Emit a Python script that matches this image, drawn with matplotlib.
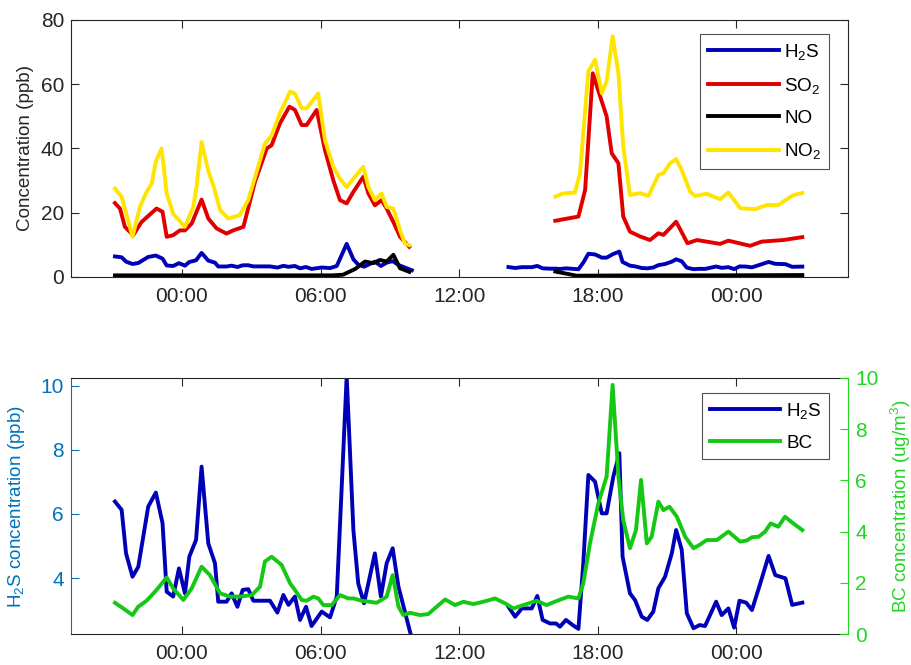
import matplotlib
matplotlib.use("Agg")
import matplotlib.pyplot as plt
from matplotlib.lines import Line2D

plt.rcParams["font.family"] = ["Liberation Sans", "DejaVu Sans"]
plt.rcParams["mathtext.fontset"] = "custom"
plt.rcParams["mathtext.rm"] = "Liberation Sans"
plt.rcParams["mathtext.it"] = "Liberation Sans"
plt.rcParams["mathtext.default"] = "regular"

# ---- data (time in hours relative to midnight of day 2) ----
h2s_t1 = [-2.90, -2.61, -2.42, -2.14, -1.89, -1.46, -1.13, -0.84, -0.66, -0.38,
          -0.13, 0.13, 0.32, 0.61, 0.85, 1.14, 1.43, 1.57, 1.93, 2.15,
          2.40, 2.63, 2.87, 3.09, 3.81, 4.13, 4.39, 4.61, 4.89, 5.11,
          5.37, 5.61, 6.05, 6.41, 6.70, 7.13, 7.42, 7.63, 7.88, 8.35,
          8.61, 8.86, 9.12, 9.37, 9.95]
h2s_v1 = [6.39, 6.13, 4.77, 4.04, 4.35, 6.23, 6.67, 5.71, 3.57, 3.42,
          4.30, 3.52, 4.67, 5.19, 7.48, 5.08, 4.46, 3.26, 3.26, 3.52,
          3.10, 3.63, 3.65, 3.29, 3.29, 2.92, 3.47, 3.16, 3.42, 2.69,
          3.10, 2.50, 2.95, 2.77, 3.42, 10.3, 5.50, 3.83, 3.21, 4.77,
          3.42, 4.46, 4.93, 3.73, 2.10]
h2s_t2 = [14.13, 14.42, 14.71, 15.14, 15.38, 15.61, 15.93, 16.19, 16.36, 16.62,
          16.91, 17.16, 17.37, 17.59, 17.88, 18.17, 18.38, 18.67, 18.93, 19.07,
          19.39, 19.61, 19.90, 20.14, 20.40, 20.62, 20.91, 21.20, 21.39, 21.63,
          21.85, 22.14, 22.40, 22.64, 23.12, 23.36, 23.65, 23.90, 24.13, 24.42,
          24.67, 25.03, 25.39, 25.68, 26.12, 26.41, 26.85]
h2s_v2 = [3.10, 2.79, 3.05, 3.05, 3.44, 2.69, 2.58, 2.58, 2.48, 2.69,
          2.53, 2.41, 4.46, 7.22, 7.01, 6.02, 6.02, 7.17, 7.90, 4.67,
          3.52, 3.31, 2.79, 2.69, 2.95, 3.68, 4.04, 4.77, 5.50, 4.88,
          2.90, 2.43, 2.53, 2.50, 3.26, 2.84, 3.05, 2.45, 3.29, 3.23,
          3.00, 3.83, 4.69, 4.09, 3.99, 3.16, 3.23]

so2_t1 = [-2.90, -2.68, -2.47, -2.11, -1.75, -1.10, -0.84, -0.66, -0.38, -0.09,
          0.13, 0.42, 0.85, 1.14, 1.50, 1.93, 2.22, 2.66, 3.16, 3.67,
          3.88, 4.24, 4.65, 4.89, 5.18, 5.40, 5.83, 6.19, 6.55, 6.84,
          7.13, 7.42, 7.85, 8.07, 8.35, 8.64, 8.86, 9.15, 9.44, 9.84]
so2_v1 = [23.0, 21.3, 15.6, 13.0, 17.1, 21.3, 20.3, 12.5, 13.0, 14.5,
          14.5, 16.6, 24.1, 18.2, 15.1, 13.5, 14.5, 15.6, 29.6, 40.0,
          41.0, 47.8, 53.0, 52.0, 47.3, 47.3, 52.0, 39.5, 30.1, 23.9,
          22.9, 26.5, 31.2, 26.0, 22.3, 23.9, 21.3, 17.1, 12.5, 9.4]
so2_t2 = [16.16, 17.16, 17.45, 17.78, 18.10, 18.38, 18.60, 18.89, 19.10, 19.39,
          19.83, 20.26, 20.62, 20.84, 21.39, 21.88, 22.29, 23.29, 23.65, 24.59,
          25.09, 26.03, 26.85]
so2_v2 = [17.5, 18.8, 27.1, 63.4, 56.2, 50.0, 38.5, 35.4, 18.8, 14.1,
          12.6, 11.5, 13.6, 13.1, 17.2, 10.5, 11.5, 10.3, 11.3, 9.7,
          11.0, 11.5, 12.4]

no_t1 = [-2.90, 6.50, 6.97, 7.50, 7.92, 8.28, 8.57, 8.86, 9.15, 9.44, 9.84]
no_v1 = [0.5, 0.5, 0.7, 2.5, 4.8, 4.3, 5.3, 4.8, 6.9, 2.7, 1.6]
no_t2 = [16.16, 17.08, 20.0, 23.0, 26.85]
no_v2 = [1.7, 0.4, 0.5, 0.5, 0.6]

no2_t1 = [-2.90, -2.61, -2.14, -1.82, -1.53, -1.31, -1.13, -0.88, -0.66, -0.38,
          0.13, 0.49, 0.63, 0.85, 1.14, 1.36, 1.65, 2.00, 2.50, 2.87,
          3.16, 3.59, 3.88, 4.24, 4.68, 4.89, 5.18, 5.40, 5.90, 6.19,
          6.55, 6.84, 7.13, 7.42, 7.85, 8.07, 8.35, 8.64, 8.86, 9.15,
          9.44, 9.65, 9.84]
no2_v1 = [27.5, 25.0, 12.5, 21.8, 26.5, 29.0, 36.0, 40.0, 26.0, 19.7,
          15.6, 21.8, 28.0, 42.0, 33.0, 28.5, 20.8, 18.2, 19.2, 24.0,
          31.0, 41.5, 44.0, 51.0, 57.7, 57.1, 52.5, 52.5, 57.1, 42.6,
          34.3, 30.6, 28.0, 30.6, 34.3, 28.0, 23.9, 26.0, 21.8, 21.3,
          14.5, 10.4, 9.9]
no2_t2 = [16.16, 16.50, 17.01, 17.23, 17.59, 17.88, 18.17, 18.38, 18.64, 18.89,
          19.10, 19.39, 19.83, 20.19, 20.62, 20.84, 21.13, 21.39, 21.63, 21.99,
          22.21, 22.71, 23.29, 23.65, 24.16, 24.81, 25.31, 25.81, 26.46, 26.85]
no2_v2 = [25.0, 26.0, 26.3, 32.3, 64.0, 67.6, 57.2, 60.9, 74.9, 63.4,
          40.6, 25.5, 26.1, 25.2, 31.8, 32.3, 35.4, 36.7, 33.3, 26.6,
          25.2, 25.9, 24.2, 26.3, 21.4, 21.1, 22.4, 22.4, 25.5, 26.1]

bc_t = [-2.90, -2.54, -2.14, -1.89, -1.53, -1.10, -0.66, -0.38, 0.06, 0.42,
        0.85, 1.21, 1.65, 2.08, 2.51, 3.02, 3.38, 3.59, 3.88, 4.31,
        4.68, 4.89, 5.18, 5.40, 5.69, 5.90, 6.12, 6.48, 6.84, 7.20,
        7.42, 7.78, 8.43, 8.86, 9.12, 9.37, 9.58, 9.87, 10.30, 10.66,
        11.39, 11.82, 12.18, 12.61, 13.04, 13.55, 13.98, 14.34, 14.78, 15.35,
        15.78, 16.22, 16.72, 17.16, 17.37, 17.66, 18.02, 18.38, 18.64, 18.89,
        19.10, 19.39, 19.65, 19.87, 20.12, 20.33, 20.62, 20.84, 21.10, 21.42,
        21.78, 22.14, 22.40, 22.71, 23.15, 23.65, 24.16, 24.44, 24.67, 24.96,
        25.24, 25.48, 25.81, 26.10, 26.46, 26.85]
bc_v = [1.22, 1.00, 0.74, 1.07, 1.30, 1.72, 2.21, 1.78, 1.33, 1.78,
        2.63, 2.30, 1.59, 1.46, 1.46, 1.52, 1.85, 2.83, 3.02, 2.70,
        1.98, 1.72, 1.33, 1.30, 1.46, 1.39, 1.13, 1.13, 1.52, 1.39,
        1.39, 1.30, 1.22, 1.46, 2.30, 1.07, 0.74, 0.83, 0.74, 0.78,
        1.35, 1.13, 1.26, 1.17, 1.26, 1.39, 1.20, 1.00, 1.13, 1.30,
        1.13, 1.29, 1.46, 1.39, 1.98, 3.54, 5.10, 6.15, 9.73, 6.15,
        4.45, 3.35, 4.06, 6.02, 3.54, 3.80, 5.17, 4.84, 4.97, 4.58,
        3.80, 3.35, 3.48, 3.67, 3.67, 4.00, 3.61, 3.65, 3.78, 3.80,
        4.00, 4.32, 4.19, 4.58, 4.32, 4.06]

tick_hours = [0, 6, 12, 18, 24]
tick_labels = ["00:00", "06:00", "12:00", "18:00", "00:00"]

c_h2s = "#0000b8"
c_so2 = "#e00000"
c_no = "#000000"
c_no2 = "#ffe400"
c_bc = "#14c814"
c_left = "#0072bd"
c_right = "#22d422"
c_axis = "#262626"
lw = 2.8
fs_tick = 15
fs_lab = 13.6


def style_time_axis(ax):
    ax.set_xlim(-4.8, 28.83)
    ax.set_xticks(tick_hours)
    ax.set_xticklabels(tick_labels)
    ax.tick_params(axis="x", direction="in", top=True, length=5.5, width=0.8,
                   color=c_axis, labelcolor=c_axis, labelsize=fs_tick, pad=7)
    for s in ["top", "bottom"]:
        ax.spines[s].set_color(c_axis)
        ax.spines[s].set_linewidth(0.8)


fig = plt.figure(figsize=(9.12, 6.65), dpi=100)

# ---- top panel ----
ax1 = fig.add_axes([0.0779, 0.5835, 0.852, 0.3865])
ax1.plot(h2s_t1, h2s_v1, color=c_h2s, lw=lw, label="H$_2$S")
ax1.plot(h2s_t2, h2s_v2, color=c_h2s, lw=lw)
ax1.plot(so2_t1, so2_v1, color=c_so2, lw=lw, label="SO$_2$")
ax1.plot(so2_t2, so2_v2, color=c_so2, lw=lw)
ax1.plot(no_t1, no_v1, color=c_no, lw=lw, label="NO")
ax1.plot(no_t2, no_v2, color=c_no, lw=lw)
ax1.plot(no2_t1, no2_v1, color=c_no2, lw=lw, label="NO$_2$")
ax1.plot(no2_t2, no2_v2, color=c_no2, lw=lw)
style_time_axis(ax1)
ax1.set_ylim(0, 80)
ax1.set_yticks([0, 20, 40, 60, 80])
ax1.tick_params(axis="y", direction="in", right=True, length=5.5, width=0.8,
                color=c_axis, labelcolor=c_axis, labelsize=fs_tick, pad=5)
for s in ["left", "right"]:
    ax1.spines[s].set_color(c_axis)
    ax1.spines[s].set_linewidth(0.8)
ax1.set_ylabel("Concentration (ppb)", fontsize=fs_lab, color=c_axis)
ax1.yaxis.set_label_coords(-0.0476, 0.5)
leg1 = ax1.legend(loc="upper right", bbox_to_anchor=(0.9755, 0.9455),
                  borderaxespad=0, fontsize=fs_lab, frameon=True, fancybox=False,
                  edgecolor=c_axis, handlelength=3.75, handletextpad=0.3,
                  labelspacing=0.75, borderpad=0.4)
leg1.get_frame().set_linewidth(0.8)

# ---- bottom panel ----
ax2 = fig.add_axes([0.0779, 0.0466, 0.852, 0.385])
ax3 = ax2.twinx()
ax2.plot(h2s_t1, h2s_v1, color=c_h2s, lw=lw)
ax2.plot(h2s_t2, h2s_v2, color=c_h2s, lw=lw)
ax3.plot(bc_t, bc_v, color=c_bc, lw=lw)
style_time_axis(ax2)
ax2.set_ylim(2.25, 10.25)
ax2.set_yticks([4, 6, 8, 10])
ax2.tick_params(axis="y", direction="in", length=5.5, width=0.8,
                color=c_left, labelcolor=c_left, labelsize=fs_tick, pad=5)
ax2.spines["left"].set_color(c_left)
ax2.spines["left"].set_linewidth(0.8)
ax2.spines["right"].set_visible(False)
ax2.set_ylabel("H$_2$S concentration (ppb)", fontsize=fs_lab, color=c_left)
ax2.yaxis.set_label_coords(-0.0566, 0.5)

ax3.set_ylim(0, 10)
ax3.set_yticks([0, 2, 4, 6, 8, 10])
ax3.tick_params(axis="y", direction="in", length=5.5, width=0.8,
                color=c_right, labelcolor=c_right, labelsize=fs_tick, pad=5)
ax3.spines["right"].set_color(c_right)
ax3.spines["right"].set_linewidth(0.8)
ax3.spines["left"].set_visible(False)
ax3.spines["top"].set_visible(False)
ax3.spines["bottom"].set_visible(False)
ax3.set_ylabel("BC concentration (ug/m$^3$)", fontsize=fs_lab, color=c_right)
ax3.yaxis.set_label_coords(1.053, 0.5)

handles = [Line2D([], [], color=c_h2s, lw=lw), Line2D([], [], color=c_bc, lw=lw)]
leg2 = ax3.legend(handles, ["H$_2$S", "BC"], loc="upper right",
                  bbox_to_anchor=(0.9755, 0.9414), borderaxespad=0,
                  fontsize=fs_lab, frameon=True, fancybox=False,
                  edgecolor=c_axis, handlelength=3.75, handletextpad=0.3,
                  labelspacing=0.75, borderpad=0.4)
leg2.get_frame().set_linewidth(0.8)

fig.savefig("out.png", dpi=100, facecolor="white")
